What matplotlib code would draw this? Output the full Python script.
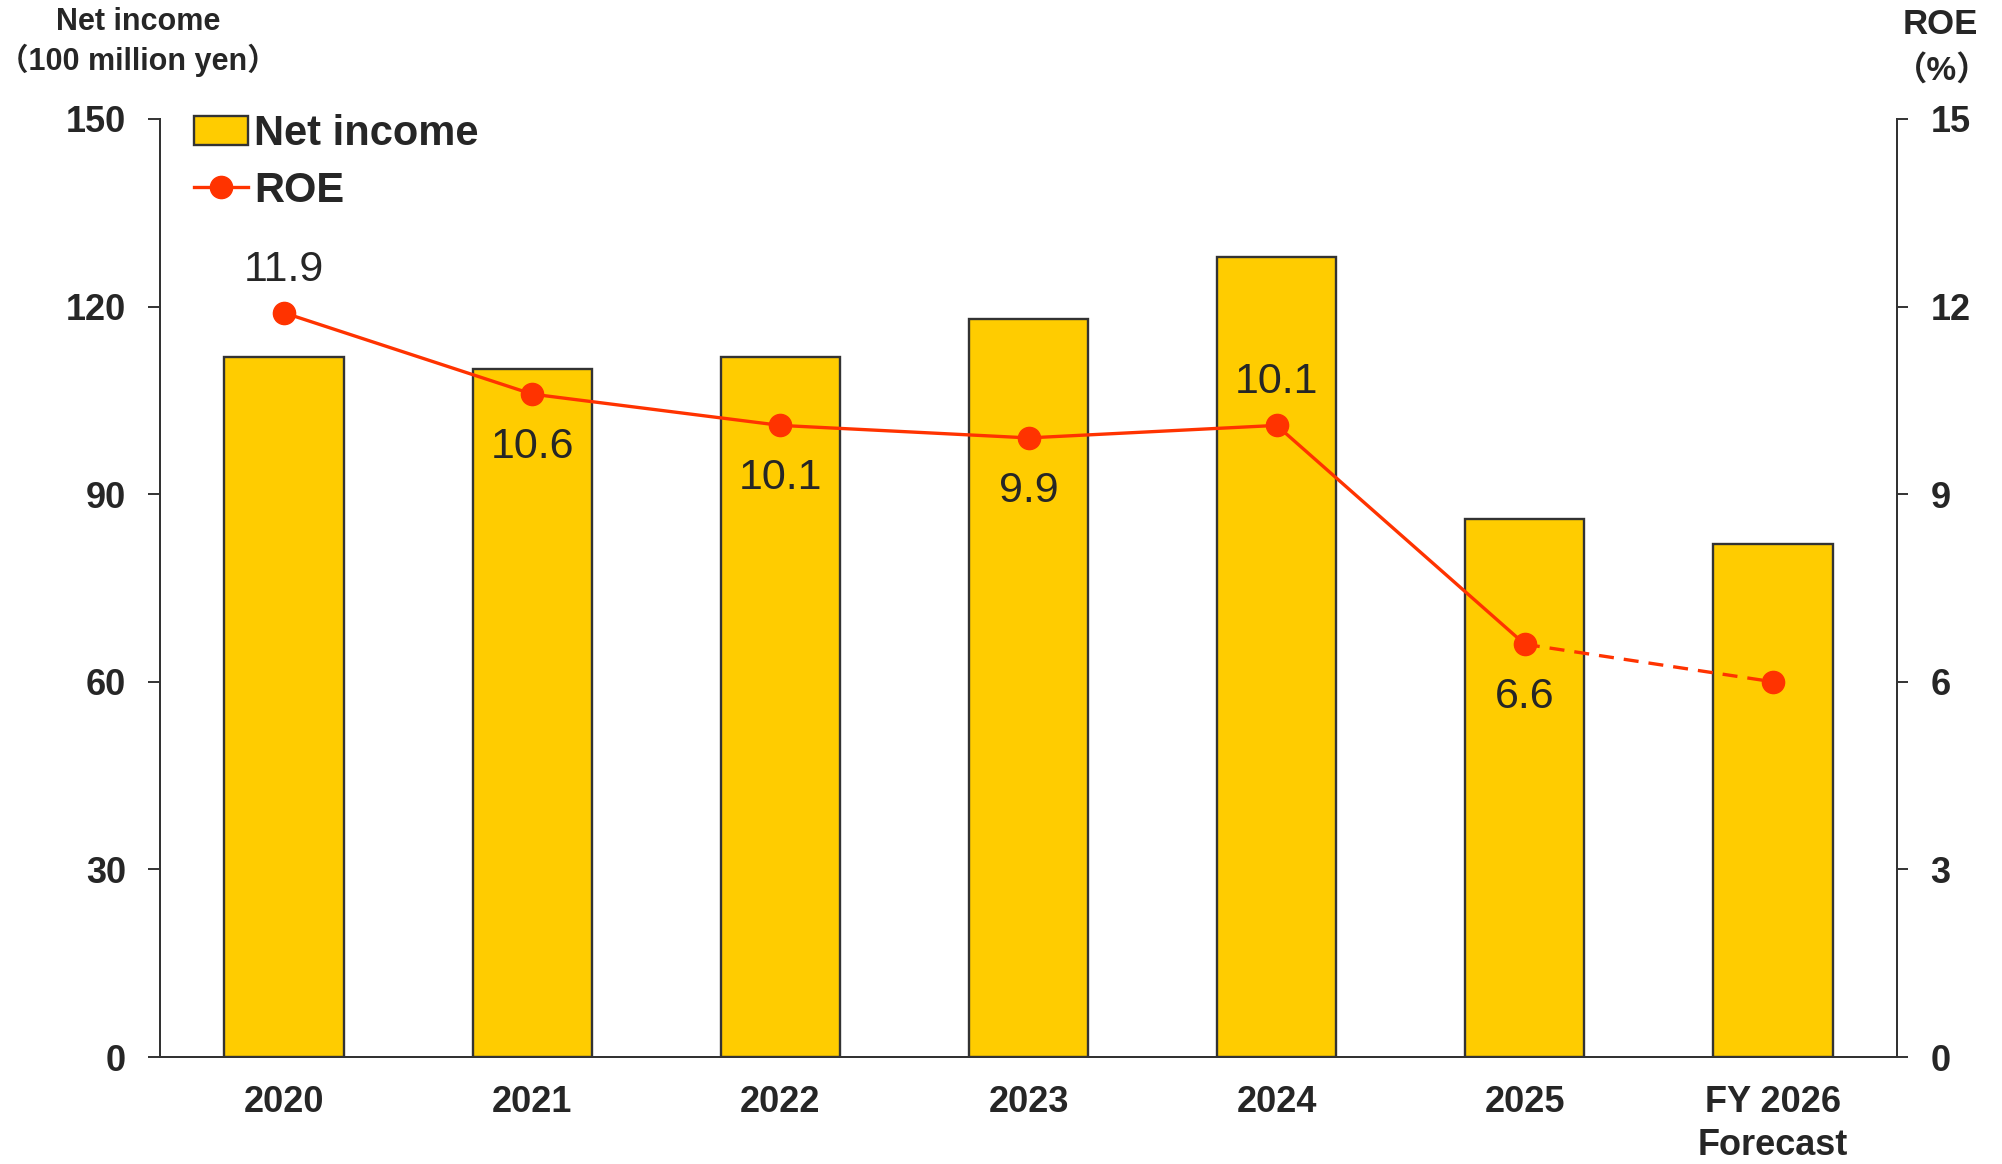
import matplotlib.pyplot as plt
import numpy as np
from matplotlib.patches import Patch
from matplotlib.lines import Line2D

plt.rcParams['font.family'] = ['Liberation Sans', 'Noto Sans CJK JP', 'DejaVu Sans']
plt.rcParams['axes.unicode_minus'] = False

# data
years = ['2020', '2021', '2022', '2023', '2024', '2025', 'FY 2026\nForecast']
net_income = [112, 110, 112, 118, 128, 86, 82]
roe = [11.9, 10.6, 10.1, 9.9, 10.1, 6.6, 6.0]
roe_labels = ['11.9', '10.6', '10.1', '9.9', '10.1', '6.6', '']
label_above = [True, False, False, False, True, False, False]

text_color = '#262626'
bar_color = '#FFCC00'
line_color = '#FF3300'

fig = plt.figure(figsize=(20.02, 11.64), dpi=100)
ax = fig.add_axes([0.0799, 0.0919, 0.8677, 0.8059])
ax2 = ax.twinx()

x = np.arange(len(years))

# bars
ax.bar(x, net_income, width=0.48, color=bar_color, edgecolor='#333333',
       linewidth=1.7, label='Net income', zorder=2)
ax.set_xlim(-0.5, len(years) - 0.5)
ax.set_ylim(0, 150)
ax.set_yticks([0, 30, 60, 90, 120, 150])

# ROE line: solid for actuals, dashed to forecast
ax2.plot(x[:-1], roe[:-1], '-', color=line_color, linewidth=2.4, zorder=3)
ax2.plot(x[-2:], roe[-2:], '--', color=line_color, linewidth=2.4,
         dashes=(4.5, 3), zorder=3)
ax2.plot(x, roe, 'o', color=line_color, markersize=16, zorder=4)
ax2.set_ylim(0, 15)
ax2.set_yticks([0, 3, 6, 9, 12, 15])

for xi, v, lab, up in zip(x, roe, roe_labels, label_above):
    if lab:
        ax2.annotate(lab, (xi, v), xytext=(0, 31 if up else -38),
                     textcoords='offset points', ha='center', va='center',
                     fontsize=31, color=text_color, zorder=5)

# axes styling
for a in (ax, ax2):
    for s in a.spines.values():
        s.set_color('#333333')
        s.set_linewidth(1.4)
    a.spines['top'].set_visible(False)

ax.set_xticks(x)
ax.set_xticklabels(years, fontsize=26, fontweight='bold', color=text_color,
                   linespacing=1.3)
ax.tick_params(axis='x', length=0, pad=20)
ax.tick_params(axis='y', direction='out', length=8.5, width=1.4, color='#333333',
               labelsize=26, labelcolor=text_color, pad=16)
ax2.tick_params(axis='y', direction='out', length=8, width=1.4, color='#333333',
                labelsize=26, labelcolor=text_color, pad=16)
for lab in ax.get_yticklabels() + ax2.get_yticklabels():
    lab.set_fontweight('bold')

# axis titles
fig.text(0.069, 0.981, 'Net income', ha='center', va='center', fontsize=22,
         fontweight='bold', color=text_color)
fig.text(0.069, 0.948, '（100 million yen）', ha='center', va='center', fontsize=22,
         fontweight='bold', color=text_color)
fig.text(0.969, 0.979, 'ROE', ha='center', va='center', fontsize=25,
         fontweight='bold', color=text_color)
fig.text(0.970, 0.939, '（%）', ha='center', va='center', fontsize=24,
         fontweight='bold', color=text_color)

# legend
handles = [Patch(facecolor=bar_color, edgecolor='#333333', linewidth=1.7),
           Line2D([0], [0], color=line_color, linewidth=2.4, marker='o', markersize=16)]
leg = ax.legend(handles, ['Net income', 'ROE'], loc='upper left',
                bbox_to_anchor=(-0.002, 1.045), frameon=False, handlelength=1.3,
                handletextpad=0.15, labelspacing=0.4,
                prop={'family': ['Liberation Sans'], 'weight': 'bold', 'size': 30})
for t in leg.get_texts():
    t.set_color(text_color)

fig.savefig('out.png', dpi=100)
